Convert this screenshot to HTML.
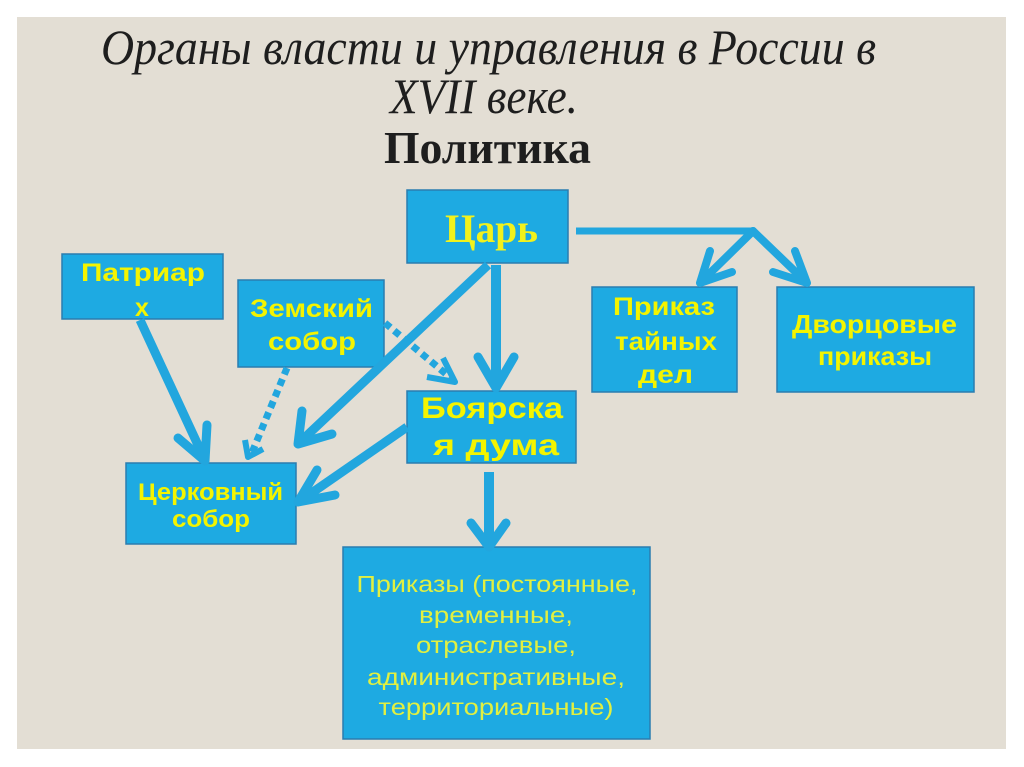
<!DOCTYPE html>
<html><head><meta charset="utf-8"><style>
html,body{margin:0;padding:0;background:#fff;}
svg{display:block;}
</style></head><body>
<svg width="1024" height="767" viewBox="0 0 1024 767" xmlns="http://www.w3.org/2000/svg">
<rect x="0" y="0" width="1024" height="767" fill="#ffffff"/>
<rect x="17" y="17" width="989" height="732" fill="#e3ded4"/>

<!-- Title -->
<g fill="#1e1e1e" font-family="'Liberation Serif', serif">
<text x="101" y="64" font-size="50" font-style="italic" textLength="775" lengthAdjust="spacingAndGlyphs">Органы власти и управления в России в</text>
<text x="390" y="113" font-size="50" font-style="italic" textLength="188" lengthAdjust="spacingAndGlyphs">XVII веке.</text>
<text x="384" y="163" font-size="46" font-weight="bold" textLength="207" lengthAdjust="spacingAndGlyphs">Политика</text>
</g>

<!-- Boxes -->
<g fill="#1eaae2" stroke="#2a7db0" stroke-width="1.5">
<rect x="62" y="254" width="161" height="65"/>
<rect x="238" y="280" width="146" height="87"/>
<rect x="126" y="463" width="170" height="81"/>
<rect x="407" y="190" width="161" height="73"/>
<rect x="407" y="391" width="169" height="72"/>
<rect x="592" y="287" width="145" height="105"/>
<rect x="777" y="287" width="197" height="105"/>
<rect x="343" y="547" width="307" height="192"/>
</g>

<!-- Connectors -->
<g stroke="#22a6de" fill="none">
  <!-- Патриарх -> Церковный -->
  <line x1="140" y1="320" x2="204" y2="458" stroke-width="9"/>
  <polyline points="178,438 205,461 207,425" stroke-width="9" stroke-linecap="round" stroke-linejoin="round"/>
  <!-- Царь -> Церковный -->
  <line x1="488" y1="265" x2="300" y2="442" stroke-width="9"/>
  <polyline points="302,411 298,444 332,434" stroke-width="9" stroke-linecap="round" stroke-linejoin="round"/>
  <!-- Царь -> Боярская -->
  <line x1="496" y1="265" x2="496" y2="386" stroke-width="10"/>
  <polyline points="478,357 496,388 514,357" stroke-width="9" stroke-linecap="round" stroke-linejoin="round"/>
  <!-- Боярская -> Церковный -->
  <line x1="407" y1="427" x2="300" y2="501" stroke-width="9"/>
  <polyline points="317,470 298,502 335,495" stroke-width="9" stroke-linecap="round" stroke-linejoin="round"/>
  <!-- Боярская -> Приказы -->
  <line x1="489" y1="472" x2="489" y2="545" stroke-width="10"/>
  <polyline points="471,523 489,547 506,523" stroke-width="9" stroke-linecap="round" stroke-linejoin="round"/>
  <!-- Dotted Земский -> Церковный -->
  <line x1="287" y1="368" x2="251" y2="455" stroke-width="7" stroke-dasharray="7 5"/>
  <polyline points="245,440 248,457 263,449" stroke-width="6" stroke-linejoin="round"/>
  <!-- Dotted Земский -> Боярская -->
  <line x1="385" y1="323" x2="452" y2="379" stroke-width="7" stroke-dasharray="7 5"/>
  <polyline points="443,358 455,382 427,377" stroke-width="6" stroke-linejoin="round"/>
  <!-- Царь -> right -->
  <line x1="576" y1="231" x2="753" y2="231" stroke-width="7"/>
  <line x1="753" y1="231" x2="702" y2="281" stroke-width="8" stroke-linecap="round"/>
  <polyline points="710,251 700,283 732,272" stroke-width="8" stroke-linecap="round" stroke-linejoin="round"/>
  <line x1="753" y1="231" x2="805" y2="281" stroke-width="8" stroke-linecap="round"/>
  <polyline points="795,251 807,283 773,272" stroke-width="8" stroke-linecap="round" stroke-linejoin="round"/>
</g>

<!-- Labels -->
<text x="445" y="242" font-family="'Liberation Serif', serif" font-weight="bold" font-size="40" fill="#f2f21c" textLength="93" lengthAdjust="spacingAndGlyphs">Царь</text>

<g fill="#f4f400" font-family="'Liberation Sans', sans-serif" font-weight="bold" font-size="25">
<text x="81" y="281" textLength="124" lengthAdjust="spacingAndGlyphs">Патриар</text>
<text x="142" y="316" text-anchor="middle">х</text>
<text x="250" y="317" textLength="123" lengthAdjust="spacingAndGlyphs">Земский</text>
<text x="268" y="350" textLength="88" lengthAdjust="spacingAndGlyphs">собор</text>
<text x="138" y="500" font-size="24" textLength="145" lengthAdjust="spacingAndGlyphs">Церковный</text>
<text x="172" y="527" font-size="24" textLength="78" lengthAdjust="spacingAndGlyphs">собор</text>
<text x="421" y="418" font-size="30" textLength="142" lengthAdjust="spacingAndGlyphs">Боярска</text>
<text x="433" y="455" font-size="30" textLength="126" lengthAdjust="spacingAndGlyphs">я дума</text>
<text x="613" y="315" textLength="102" lengthAdjust="spacingAndGlyphs">Приказ</text>
<text x="615" y="350" textLength="102" lengthAdjust="spacingAndGlyphs">тайных</text>
<text x="638" y="383" textLength="55" lengthAdjust="spacingAndGlyphs">дел</text>
<text x="792" y="333" font-size="26" textLength="165" lengthAdjust="spacingAndGlyphs">Дворцовые</text>
<text x="818" y="365" font-size="26" textLength="114" lengthAdjust="spacingAndGlyphs">приказы</text>
</g>

<g fill="#e2f040" font-family="'Liberation Sans', sans-serif" font-size="23" text-anchor="middle">
<text x="497" y="592" textLength="281" lengthAdjust="spacingAndGlyphs">Приказы (постоянные,</text>
<text x="496" y="623" textLength="154" lengthAdjust="spacingAndGlyphs">временные,</text>
<text x="496" y="653" textLength="160" lengthAdjust="spacingAndGlyphs">отраслевые,</text>
<text x="496" y="685" textLength="258" lengthAdjust="spacingAndGlyphs">административные,</text>
<text x="496" y="715" textLength="235" lengthAdjust="spacingAndGlyphs">территориальные)</text>
</g>
</svg>
</body></html>
